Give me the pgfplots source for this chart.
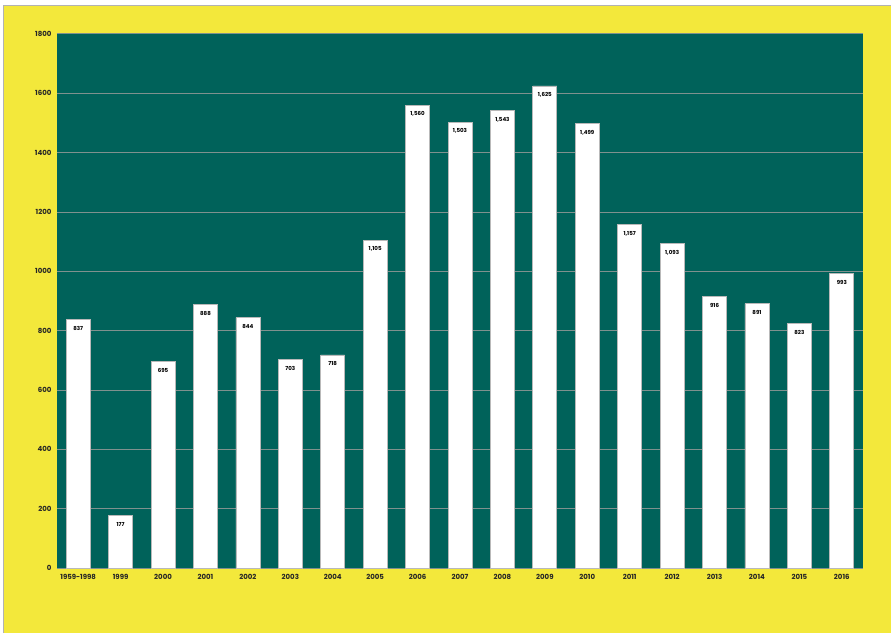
\documentclass[border=0pt]{standalone}
\usepackage{pgfplots}
\pgfplotsset{compat=1.18}
\usepackage{fontspec}
\setmainfont{Poppins}
\definecolor{bgyellow}{HTML}{F3E83B}
\definecolor{plotgreen}{HTML}{00625A}
\definecolor{gridgray}{HTML}{7F918E}
\begin{document}
\begin{tikzpicture}[x=1pt,y=1pt]
\useasboundingbox (0,0) rectangle (891,633);
\fill[white] (0,0) rectangle (891,633);
\fill[bgyellow] (3.5,0) rectangle (891,627.5);
\draw[gray!60, line width=1.2pt] (3.5,0) -- (3.5,627.5) -- (891,627.5);
\begin{axis}[
  at={(57pt,65pt)}, anchor=south west,
  scale only axis, width=806pt, height=534pt,
  xmin=-0.5, xmax=18.5, ymin=0, ymax=1800,
  axis background/.style={fill=plotgreen},
  axis line style={draw=none},
  ytick={0,200,...,1800},
  ymajorgrids, grid style={gridgray, line width=1pt},
  xtick=data,
  xticklabels={1959-1998,1999,2000,2001,2002,2003,2004,2005,2006,2007,2008,2009,2010,2011,2012,2013,2014,2015,2016},
  major tick length=0pt,
  ticklabel style={font=\fontsize{7}{8}\selectfont\bfseries, text=black!85},
  /pgf/number format/assume math mode=true,
  yticklabel style={/pgf/number format/1000 sep={}, xshift=-2pt},
  xticklabel style={yshift=-3pt},
  ybar, bar width=24pt,
  nodes near coords,
  every node near coord/.append style={font=\fontsize{5.5}{6}\selectfont\bfseries, text=black, anchor=north, yshift=-3pt},
  /pgf/number format/1000 sep={,},
]
\addplot[fill=white, draw=gray!55, line width=0.7pt] coordinates {
(0,837) (1,177) (2,695) (3,888) (4,844) (5,703) (6,718) (7,1105) (8,1560) (9,1503)
(10,1543) (11,1625) (12,1499) (13,1157) (14,1093) (15,916) (16,891) (17,823) (18,993)};
\end{axis}
\end{tikzpicture}
\end{document}
